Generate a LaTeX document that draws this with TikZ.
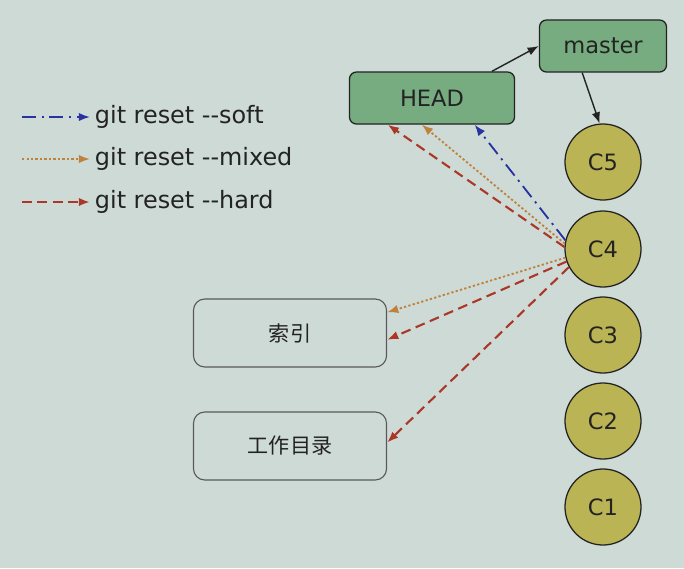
\documentclass[tikz,border=0pt]{standalone}
\usepackage{fontspec}
\setmainfont{DejaVu Sans}
\newfontfamily\cjk{Noto Sans CJK SC}
\usetikzlibrary{arrows.meta}
\definecolor{bgcol}{RGB}{206,218,214}
\definecolor{refcol}{RGB}{118,172,128}
\definecolor{commitcol}{RGB}{186,180,84}
\definecolor{softcol}{RGB}{40,50,160}
\definecolor{mixedcol}{RGB}{190,130,60}
\definecolor{hardcol}{RGB}{170,55,40}
\definecolor{inkcol}{RGB}{35,35,35}
\begin{document}
\begin{tikzpicture}[x=0.025cm,y=-0.025cm,
  font=\fontsize{16}{19}\selectfont, text=inkcol,
  refbox/.style={draw=inkcol,line width=0.9pt,rounded corners=5pt,fill=refcol,minimum height=1.3cm},
  commit/.style={circle,draw=inkcol,line width=0.9pt,fill=commitcol,minimum size=1.9cm,inner sep=0pt},
  areabox/.style={draw=black!65,line width=0.8pt,rounded corners=8pt,minimum width=4.825cm,minimum height=1.7cm,font=\cjk\fontsize{15}{18}\selectfont},
  legend/.style={anchor=west,font=\fontsize{17}{20}\selectfont},
  tip/.style={-{Latex[length=8pt,width=6pt]}},
  soft/.style={tip,softcol,line width=1.3pt,dash pattern=on 10pt off 4pt on 1.5pt off 4pt},
  mixed/.style={tip,mixedcol,line width=1.3pt,dash pattern=on 1.6pt off 1.6pt},
  hard/.style={tip,hardcol,line width=1.5pt,dash pattern=on 7pt off 4pt},
]
\useasboundingbox[fill=bgcol] (0,0) rectangle (684,568);

% legend
\coordinate (s1) at (22,117);
\coordinate (s2) at (22,159);
\coordinate (s3) at (22,202);
\node[legend] (lsoft) at (90,117) {git reset -{}-soft};
\node[legend] (lmixed) at (90,159) {git reset -{}-mixed};
\node[legend] (lhard) at (90,202) {git reset -{}-hard};
\draw[soft] (s1) -- (lsoft.west);
\draw[mixed] (s2) -- (lmixed.west);
\draw[hard] (s3) -- (lhard.west);

% refs
\node[refbox,minimum width=4.125cm] (head) at (432,98) {HEAD};
\node[refbox,minimum width=3.175cm] (master) at (603,46) {master};

% commits
\node[commit] (c5) at (603,162) {C5};
\node[commit] (c4) at (603,249) {C4};
\node[commit] (c3) at (603,335) {C3};
\node[commit] (c2) at (603,421) {C2};
\node[commit] (c1) at (603,507) {C1};

% index and working tree
\node[areabox] (index) at (290,333) {索引};
\node[areabox] (work) at (290,446) {工作目录};

\draw[tip,inkcol,line width=1pt] (head.24) -- (master.west);
\draw[tip,inkcol,line width=1pt] (master.232) -- (c5.95);

\draw[soft] (c4.167) -- (head.-32);
\draw[mixed] (c4.172) -- (head.-111);
\draw[hard] (c4.177) -- (head.-149);
\draw[mixed] (c4.193) -- (index.12);
\draw[hard] (c4.199) -- (index.-4);
\draw[hard] (c4.208) -- (work.2);
\end{tikzpicture}
\end{document}
